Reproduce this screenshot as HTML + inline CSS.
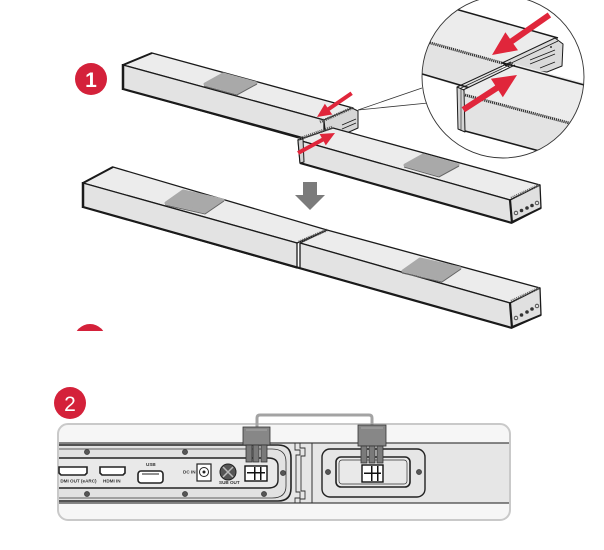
<!DOCTYPE html>
<html><head><meta charset="utf-8"><style>
html,body{margin:0;padding:0;background:#fff;}
svg{display:block;}
text{font-family:"Liberation Sans",sans-serif;}
</style></head><body>
<svg width="604" height="550" viewBox="0 0 604 550" xmlns="http://www.w3.org/2000/svg">
<defs>
<clipPath id="mag"><circle cx="503" cy="77" r="81"/></clipPath>
<clipPath id="cut"><rect x="0" y="0" width="604" height="331"/></clipPath>
<clipPath id="pnl"><rect x="59" y="425" width="450" height="94" rx="9"/></clipPath>
</defs>
<rect width="604" height="550" fill="#fff"/>

<!-- Badge 1 -->
<circle cx="91" cy="79" r="16" fill="#d4213a"/>
<text x="91" y="87" font-size="21" font-weight="bold" fill="#fff" text-anchor="middle">1</text>

<!-- Bar A -->
<g stroke="#1a1a1a" stroke-linejoin="round">
<polygon points="123,65 152,53 353,108 324,120" fill="#ececec" stroke-width="1.3"/>
<polygon points="123,65 324,120 324,145 123,89" fill="#e3e3e3" stroke-width="1.3"/>
<polygon points="352,108 358,111 358,128 340,136 326,138 324,120" fill="#d6d6d6" stroke-width="1"/>
<line x1="123" y1="89" x2="310" y2="140" stroke-width="2.2"/>
<line x1="123" y1="64" x2="123" y2="90" stroke-width="2.5"/>
<line x1="123" y1="65" x2="152" y2="53" stroke-width="2"/>
<line x1="320" y1="122" x2="352" y2="108" stroke="#555" stroke-width="3" stroke-dasharray="1 1"/>
<line x1="342" y1="125" x2="356" y2="119" stroke-width="0.8"/>
<line x1="342" y1="129" x2="356" y2="123" stroke-width="0.8"/>
</g>
<!-- pad A -->
<polygon points="205,84 223,74 256,83 238,93" fill="#a9a9a9" stroke="#a9a9a9" stroke-width="3" stroke-linejoin="round"/>
<polyline points="204,86 237,95 257,84" fill="none" stroke="#666" stroke-width="1"/>

<!-- connector lines to magnifier -->
<line x1="358" y1="110" x2="422" y2="88" stroke="#333" stroke-width="0.8"/>
<line x1="358" y1="110" x2="428" y2="103" stroke="#333" stroke-width="0.8"/>

<!-- Bar B -->
<g stroke="#1a1a1a" stroke-linejoin="round">
<polygon points="298,140 333,128 540,185 510,200" fill="#ececec" stroke-width="1.3"/>
<polygon points="298,140 510,200 512,223 300,163" fill="#e3e3e3" stroke-width="1.3"/>
<polygon points="510,200 540,185 541,208 512,223" fill="#e0e0e0" stroke-width="1.3"/>
<line x1="300" y1="163" x2="512" y2="223" stroke-width="2.2"/>
<line x1="512" y1="222" x2="541" y2="208" stroke-width="2"/>
<line x1="510" y1="200" x2="512" y2="223" stroke-width="2.2"/>
<line x1="511" y1="198" x2="539" y2="185" stroke="#666" stroke-width="2.5" stroke-dasharray="1 1"/>
<polygon points="298,140 303,139 304,162 300,163" fill="#d2d2d2" stroke-width="1"/>
<line x1="299" y1="139" x2="333" y2="127" stroke="#555" stroke-width="3.2" stroke-dasharray="1 1"/>
</g>
<g fill="#333">
<circle cx="516" cy="213" r="1.8" fill="none" stroke="#333" stroke-width="0.8"/>
<circle cx="521.5" cy="210.5" r="1.8"/>
<circle cx="527" cy="208" r="1.8"/>
<circle cx="532" cy="205.5" r="1.8"/>
<circle cx="537" cy="203" r="1.8" fill="none" stroke="#333" stroke-width="0.8"/>
</g>
<polygon points="405,165 423,155 458,165 440,175" fill="#a9a9a9" stroke="#a9a9a9" stroke-width="3" stroke-linejoin="round"/>
<polyline points="404,167 439,177 459,166" fill="none" stroke="#666" stroke-width="1"/>

<!-- small red arrows -->
<g fill="#e0263b">
<polygon transform="translate(317,117) rotate(145.6)" points="-42,-2 -14,-2 -14,-6.5 0,0 -14,6.5 -14,2 -42,2"/>
<polygon transform="translate(335,133) rotate(-28.4)" points="-42,-2 -14,-2 -14,-6.5 0,0 -14,6.5 -14,2 -42,2"/>
</g>

<!-- Magnifier -->
<g clip-path="url(#mag)">
<circle cx="503" cy="77" r="81" fill="#fff"/>
<g stroke="#1a1a1a" stroke-linejoin="round">
<polygon points="395,-8 558,38 502,63 395,33" fill="#ececec" stroke="none"/>
<polygon points="395,33 502,63 502,100 395,66" fill="#e3e3e3" stroke="none"/>
<line x1="395" y1="-8" x2="558" y2="38" stroke-width="1.5"/>
<line x1="395" y1="33" x2="502" y2="63" stroke="#333" stroke-width="2.8" stroke-dasharray="1.2 0.8"/>
<line x1="395" y1="66" x2="470" y2="88" stroke-width="1.5"/>
<polygon points="502,63 555,38 563,44 562,66 547,72 515,70" fill="#dadada" stroke-width="1"/>
<line x1="505" y1="66" x2="558" y2="41" stroke-width="0.8"/>
<line x1="530" y1="60" x2="555" y2="50" stroke-width="0.8"/>
<line x1="530" y1="64" x2="555" y2="54" stroke-width="0.8"/>
<line x1="540" y1="68" x2="555" y2="62" stroke-width="0.8"/>
<circle cx="551" cy="47" r="1" fill="#333" stroke="none"/>
<polygon points="463,90 515,64 610,90 610,134 465,95" fill="#ececec" stroke="none"/>
<polygon points="465,95 610,134 610,172 465,131" fill="#e3e3e3" stroke="none"/>
<line x1="503" y1="63" x2="610" y2="92" stroke-width="1.5"/>
<line x1="465" y1="95" x2="610" y2="134" stroke="#333" stroke-width="2.8" stroke-dasharray="1.2 0.8"/>
<line x1="465" y1="131" x2="610" y2="170" stroke-width="1.6"/>
<polygon points="457,87 464,90 465,132 458,129" fill="#d4d4d4" stroke-width="1"/>
<line x1="461" y1="88" x2="461" y2="131" stroke-width="0.6"/>
<line x1="457" y1="87" x2="511" y2="62" stroke-width="1"/>
<line x1="460" y1="88.5" x2="513" y2="63.5" stroke-width="0.7"/>
<line x1="463" y1="90" x2="515" y2="65" stroke-width="1"/>
</g>
<g fill="#e0263b">
<polygon transform="translate(492,55) rotate(145.1)" points="-70,-3 -24,-3 -24,-11 0,0 -24,11 -24,3 -70,3"/>
<polygon transform="translate(517,75) rotate(-32.9)" points="-64,-3 -24,-3 -24,-11 0,0 -24,11 -24,3 -64,3"/>
</g>
</g>
<circle cx="503" cy="77" r="81" fill="none" stroke="#333" stroke-width="0.9"/>

<!-- grey down arrow -->
<polygon points="303,182 317,182 317,195 325,195 310,210 295,195 303,195" fill="#7b7b7b"/>

<!-- Bar C + D -->
<g stroke="#1a1a1a" stroke-linejoin="round">
<polygon points="83,183 113,167 327,230 297,243" fill="#ececec" stroke-width="1.3"/>
<polygon points="83,183 297,243 297,268 83,207" fill="#e3e3e3" stroke-width="1.3"/>
<polygon points="300,243 327,230 540,288 510,303" fill="#ececec" stroke-width="1.3"/>
<polygon points="300,243 510,303 512,328 300,268" fill="#e3e3e3" stroke-width="1.3"/>
<polygon points="510,303 540,288 541,315 512,328" fill="#e0e0e0" stroke-width="1.3"/>
<line x1="83" y1="207" x2="512" y2="328" stroke-width="2.2"/>
<line x1="83" y1="182" x2="83" y2="208" stroke-width="2.5"/>
<line x1="83" y1="183" x2="113" y2="167" stroke-width="2"/>
<line x1="512" y1="327" x2="541" y2="315" stroke-width="2"/>
<line x1="510" y1="303" x2="512" y2="328" stroke-width="2.2"/>
<line x1="511" y1="301" x2="539" y2="288" stroke="#666" stroke-width="2.5" stroke-dasharray="1 1"/>
<line x1="297" y1="243" x2="297" y2="268" stroke-width="1"/>
<line x1="300" y1="243" x2="300" y2="268" stroke-width="1"/>
<line x1="299" y1="242" x2="327" y2="230" stroke="#555" stroke-width="3" stroke-dasharray="1 1"/>
</g>
<g fill="#333">
<circle cx="516" cy="318" r="1.8" fill="none" stroke="#333" stroke-width="0.8"/>
<circle cx="521.5" cy="315" r="1.8"/>
<circle cx="527" cy="312" r="1.8"/>
<circle cx="532" cy="309" r="1.8"/>
<circle cx="537" cy="306" r="1.8" fill="none" stroke="#333" stroke-width="0.8"/>
</g>
<polygon points="166,203 183,191 223,200 206,212" fill="#a9a9a9" stroke="#a9a9a9" stroke-width="3" stroke-linejoin="round"/>
<polyline points="165,205 205,214 224,201" fill="none" stroke="#666" stroke-width="1"/>
<polygon points="403,271 420,259 460,268 443,280" fill="#a9a9a9" stroke="#a9a9a9" stroke-width="3" stroke-linejoin="round"/>
<polyline points="402,273 442,282 461,269" fill="none" stroke="#666" stroke-width="1"/>

<!-- partial red circle -->
<g clip-path="url(#cut)"><circle cx="90" cy="340" r="16" fill="#d4213a"/></g>

<!-- Badge 2 -->
<circle cx="70" cy="403" r="16" fill="#d4213a"/>
<text x="70" y="411" font-size="21" fill="#fff" text-anchor="middle">2</text>

<!-- Panel 2 -->
<rect x="58" y="424" width="452" height="96" rx="10" fill="#f6f6f6" stroke="#c9c9c9" stroke-width="2"/>
<g clip-path="url(#pnl)">
<rect x="58" y="443" width="452" height="60" fill="#e6e6e6"/>
<line x1="58" y1="443" x2="510" y2="443" stroke="#444" stroke-width="1.2"/>
<line x1="58" y1="503" x2="510" y2="503" stroke="#444" stroke-width="1.2"/>
<!-- left module -->
<path d="M40,445 H278 Q291,445 291,458 V488 Q291,501 278,501 H40" fill="#e2e2e2" stroke="#222" stroke-width="1.6"/>
<path d="M40,449 H272 Q286,449 286,462 V486 Q286,498 272,498 H40" fill="none" stroke="#333" stroke-width="0.8"/>
<path d="M40,458 H268 Q278,458 278,466 V480 Q278,488 268,488 H40" fill="#e9e9e9" stroke="#222" stroke-width="1.4"/>
<!-- separator -->
<path d="M295,443 V450 H300 V455 H296 V492 H300 V498 H295 V503" fill="none" stroke="#333" stroke-width="0.9"/>
<path d="M300,443 V448 H305 V456 H301 V491 H305 V499 H300 V503" fill="none" stroke="#333" stroke-width="0.9"/>
<line x1="312" y1="443" x2="312" y2="503" stroke="#333" stroke-width="1"/>
<!-- right module -->
<rect x="322" y="449" width="103" height="48" rx="8" fill="#e6e6e6" stroke="#222" stroke-width="1.4"/>
<rect x="336" y="457" width="74" height="30" rx="5" fill="#e9e9e9" stroke="#222" stroke-width="1.6"/>
<rect x="339" y="460" width="68" height="24" rx="3" fill="none" stroke="#333" stroke-width="0.7"/>
</g>
<!-- screws -->
<g fill="#555" stroke="#333" stroke-width="0.6">
<circle cx="87" cy="452" r="2.6"/><circle cx="185" cy="452" r="2.6"/>
<circle cx="87" cy="494" r="2.6"/><circle cx="185" cy="494" r="2.6"/>
<circle cx="264" cy="494" r="2.6"/><circle cx="283" cy="473" r="2.6"/>
<circle cx="328" cy="472" r="2.6"/><circle cx="419" cy="472" r="2.6"/>
</g>
<!-- ports -->
<g fill="#fff" stroke="#222" stroke-width="1.6">
<path d="M59,467 H87 V473 L85,475 H61 L59,473 Z"/>
<path d="M100,467 H125 V473 L123,475 H102 L100,473 Z"/>
<rect x="138" y="471" width="25" height="12" rx="3"/>
<rect x="197" y="464" width="14" height="17" stroke-width="1.2"/>
</g>
<line x1="142" y1="474" x2="159" y2="474" stroke="#222" stroke-width="1"/>
<circle cx="204" cy="472" r="4.5" fill="none" stroke="#222" stroke-width="1"/>
<circle cx="204" cy="472" r="1.5" fill="#222"/>
<circle cx="228" cy="472" r="8" fill="#555" stroke="#222" stroke-width="1"/>
<path d="M223,467 L233,477 M233,467 L223,477" stroke="#bbb" stroke-width="1.5"/>
<g font-size="4.6" font-weight="bold" fill="#333">
<svg x="60" y="476" width="40" height="10" overflow="hidden"><text x="-3" y="6.5">HDMI OUT (eARC)</text></svg>
<text x="103" y="482.5">HDMI IN</text>
<text x="146" y="466">USB</text>
<text x="183" y="473.5">DC IN</text>
<text x="219" y="484">SUB OUT</text>
</g>
<!-- sockets -->
<g fill="#fff" stroke="#111" stroke-width="1.4">
<rect x="245" y="466" width="22" height="15"/>
<rect x="362" y="465" width="21" height="17"/>
</g>
<g fill="#111">
<rect x="247" y="472" width="18" height="1.5"/><rect x="254" y="467" width="1.5" height="13"/><rect x="260" y="467" width="1.5" height="13"/>
<rect x="364" y="472.5" width="17" height="1.5"/><rect x="371" y="466" width="1.5" height="15"/><rect x="377" y="466" width="1.5" height="15"/>
</g>
<!-- cable -->
<path d="M257,428 V418 Q257,415 260,415 H369 Q372,415 372,418 V426" fill="none" stroke="#a3a3a3" stroke-width="3"/>
<!-- plugs -->
<g stroke="#333" stroke-width="0.8">
<rect x="243" y="427" width="27" height="18" fill="#878787"/>
<rect x="246" y="445" width="6" height="17" fill="#7a7a7a"/>
<rect x="253" y="445" width="6" height="17" fill="#7a7a7a"/>
<rect x="261" y="445" width="6" height="17" fill="#7a7a7a"/>
<rect x="358" y="425" width="28" height="21" fill="#878787"/>
<rect x="361" y="446" width="6" height="17" fill="#7a7a7a"/>
<rect x="369" y="446" width="6" height="17" fill="#7a7a7a"/>
<rect x="377" y="446" width="6" height="17" fill="#7a7a7a"/>
</g>
<line x1="246" y1="430" x2="267" y2="430" stroke="#aaa" stroke-width="1"/>
<line x1="361" y1="428" x2="383" y2="428" stroke="#aaa" stroke-width="1"/>
</svg>
</body></html>
